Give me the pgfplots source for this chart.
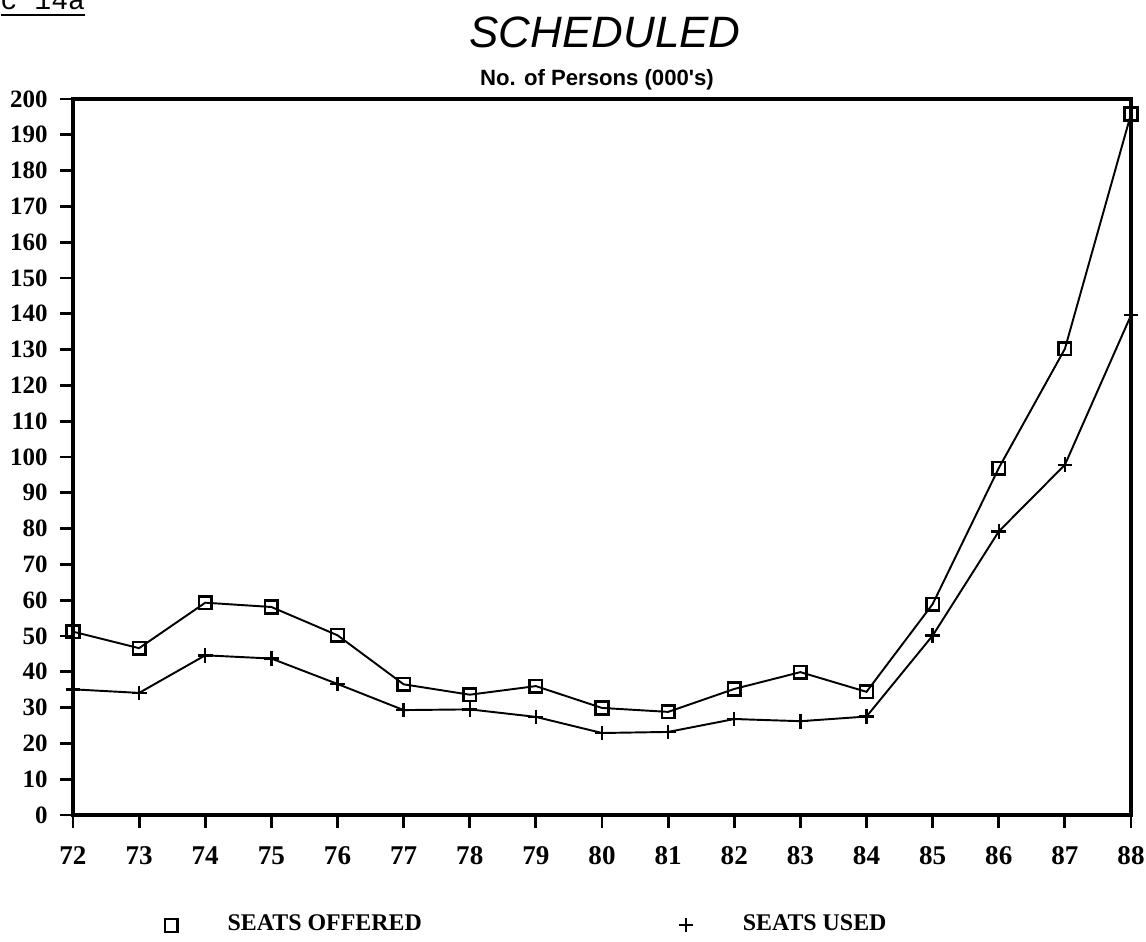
\documentclass[border=0pt]{standalone}
\usepackage{fontspec}
\setmainfont{Liberation Serif}
\newfontfamily\sansf{Liberation Sans}
\setmonofont{Liberation Mono}
\usepackage{pgfplots}
\pgfplotsset{compat=1.18}
\begin{document}
\begin{tikzpicture}
\useasboundingbox (-0.73cm,-1.27cm) rectangle (10.73cm,8.15cm);
\begin{axis}[
  at={(0,0)}, anchor=south west,
  scale only axis, width=10.58cm, height=7.16cm,
  xmin=72, xmax=88, ymin=0, ymax=200,
  xtick={72,73,...,88}, ytick={0,10,...,200},
  tick align=outside, major tick length=0.13cm,
  xtick pos=bottom, ytick pos=left,
  axis line style={line width=0.9pt},
  major tick style={line width=0.8pt, black},
  xticklabel style={font=\fontsize{7.7}{8}\selectfont\bfseries, yshift=-0.06cm},
  yticklabel style={font=\fontsize{7.1}{8}\selectfont\bfseries},
  /pgf/number format/assume math mode=true,
  /pgf/number format/set thousands separator={},
  clip=false,
  legend columns=2,
  legend style={draw=none, fill=none, inner sep=0pt,
    at={(axis description cs:0.0685,-0.154)}, anchor=west,
    font=\fontsize{6.8}{8}\selectfont\bfseries,
    nodes={inner sep=1pt},
    /tikz/every even column/.append style={column sep=2.36cm}},
  legend image code/.code={\path[draw=none] (0,0) -- (0.78cm,0); \draw[#1, only marks] plot coordinates {(0.25cm,0cm)};},
]
\addlegendimage{only marks, mark=square, mark size=1.8pt, black, line width=0.6pt}
\addlegendentry{SEATS OFFERED}
\addlegendimage{only marks, mark=+, mark size=2pt, black, line width=0.6pt}
\addlegendentry{SEATS USED}
\addplot[black, line width=0.55pt, mark=square, mark size=1.8pt, mark options={line width=0.7pt}, forget plot] coordinates {
(72,51.2) (73,46.6) (74,59.3) (75,58.1) (76,50.2) (77,36.5) (78,33.6) (79,36.0)
(80,29.9) (81,28.8) (82,35.2) (83,39.9) (84,34.4) (85,58.9) (86,96.9) (87,130.2) (88,195.8)};
\addplot[black, line width=0.55pt, mark=+, mark size=2.1pt, mark options={line width=0.7pt}, forget plot] coordinates {
(72,35.1) (73,34.1) (74,44.6) (75,43.7) (76,36.6) (77,29.3) (78,29.5) (79,27.4)
(80,22.9) (81,23.2) (82,26.8) (83,26.2) (84,27.5) (85,50.1) (86,79.2) (87,97.8) (88,139.6)};
\end{axis}
\node[font=\sansf\itshape\fontsize{12.5}{14}\selectfont] at (5.32cm,7.83cm) {SCHEDULED};
\node[font=\sansf\bfseries\fontsize{6.3}{7}\selectfont] at (5.24cm,7.35cm) {No. of Persons (000's)};
\node[anchor=base west, inner sep=0pt, font=\ttfamily\fontsize{8}{9}\selectfont] at (-0.73cm,8.05cm) {\underline{c 14a}};
\end{tikzpicture}
\end{document}
